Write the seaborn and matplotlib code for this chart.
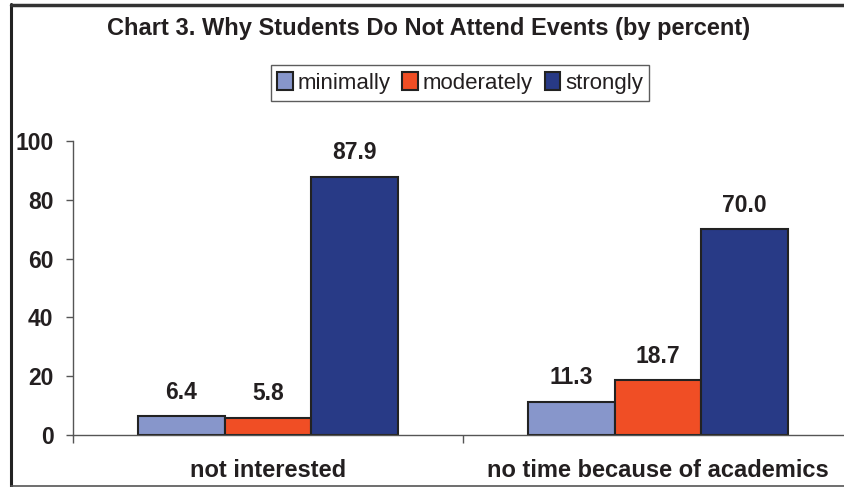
import matplotlib
matplotlib.use("Agg")
import matplotlib.pyplot as plt
from matplotlib.lines import Line2D
from matplotlib.ticker import FixedLocator
import pandas as pd
import seaborn as sns

# Survey results: reasons students give for not attending events
reasons = ["not interested", "no time because of academics"]
levels = ["minimally", "moderately", "strongly"]
minimally = [6.4, 11.3]
moderately = [5.8, 18.7]
strongly = [87.9, 70.0]
y_ticks = [0, 20, 40, 60, 80, 100]

colors = {"minimally": "#8796CB", "moderately": "#F04E25", "strongly": "#283A86"}

df = pd.DataFrame({
    "reason": reasons * 3,
    "level": [lv for lv in levels for _ in reasons],
    "percent": minimally + moderately + strongly,
})

sns.set_theme(style="white")
plt.rcParams["font.family"] = ["Liberation Sans", "DejaVu Sans"]

W, H = 844, 487
fig = plt.figure(figsize=(W / 100, H / 100), dpi=100)
fig.patch.set_facecolor("white")

# axes box in pixel terms: left spine at x=73, value 0 at y=435, value 100 at y=141
left, right = 73, 853
bottom, top = 435, 141
ax = fig.add_axes([left / W, 1 - bottom / H, (right - left) / W, (bottom - top) / H])

sns.barplot(
    data=df, x="reason", y="percent", hue="level", order=reasons,
    hue_order=levels, palette=colors, saturation=1, width=2 / 3, dodge=True,
    edgecolor="#222222", linewidth=1.5, ax=ax, legend=True,
)

ax.set_xlim(-0.5, 1.5)
ax.set_ylim(0, 100)
ax.set_yticks(y_ticks)
ax.set_yticklabels([str(t) for t in y_ticks], fontsize=16.5, fontweight="bold",
                   color="#231F20")
ax.set_xticks(range(len(reasons)))
ax.set_xticklabels(reasons, fontsize=17, fontweight="bold", color="#231F20")
ax.set_xlabel("")
ax.set_ylabel("")

# category boundary ticks below the axis, value ticks to the left
ax.xaxis.set_minor_locator(FixedLocator([-0.5, 0.5, 1.5]))
ax.tick_params(axis="x", which="major", length=0, pad=17)
ax.tick_params(axis="x", which="minor", length=6, width=1, color="#555555",
               direction="out", bottom=True)
ax.tick_params(axis="y", which="major", length=5, width=1, color="#555555",
               direction="out", left=True, pad=9)

for side in ["top", "right"]:
    ax.spines[side].set_visible(False)
for side in ["left", "bottom"]:
    ax.spines[side].set_color("#555555")
    ax.spines[side].set_linewidth(1)
ax.grid(False)

for container in ax.containers:
    ax.bar_label(container, fmt="%.1f", padding=9, fontsize=16.5,
                 fontweight="bold", color="#231F20")

ax.get_legend().remove()
handles = [plt.Rectangle((0, 0), 1, 1, facecolor=colors[lv], edgecolor="#222222",
                         linewidth=1.5) for lv in levels]
leg = fig.legend(handles, levels, loc="center", bbox_to_anchor=(460 / W, 1 - 83 / H),
                 ncol=3, frameon=True, fancybox=False, fontsize=16,
                 handlelength=0.7, handleheight=0.9, handletextpad=0.2,
                 columnspacing=0.55, borderpad=0.3, borderaxespad=0)
leg.get_frame().set_edgecolor("#333333")
leg.get_frame().set_linewidth(1)
for t in leg.get_texts():
    t.set_color("#231F20")

fig.text(429 / W, 1 - 28 / H, "Chart 3. Why Students Do Not Attend Events (by percent)",
         ha="center", va="center", fontsize=17, fontweight="bold", color="#231F20")

# outer frame of the chart area
fig.add_artist(Line2D([10.5 / W, 10.5 / W], [0, 1 - 4 / H], transform=fig.transFigure,
                      color="#222222", linewidth=2.2))
fig.add_artist(Line2D([10.5 / W, 1], [1 - 4.5 / H, 1 - 4.5 / H], transform=fig.transFigure,
                      color="#333333", linewidth=2.5))
fig.add_artist(Line2D([10.5 / W, 1], [1 - 485.5 / H, 1 - 485.5 / H],
                      transform=fig.transFigure, color="#555555", linewidth=1.2))

fig.savefig("out.png", dpi=100, facecolor="white")
